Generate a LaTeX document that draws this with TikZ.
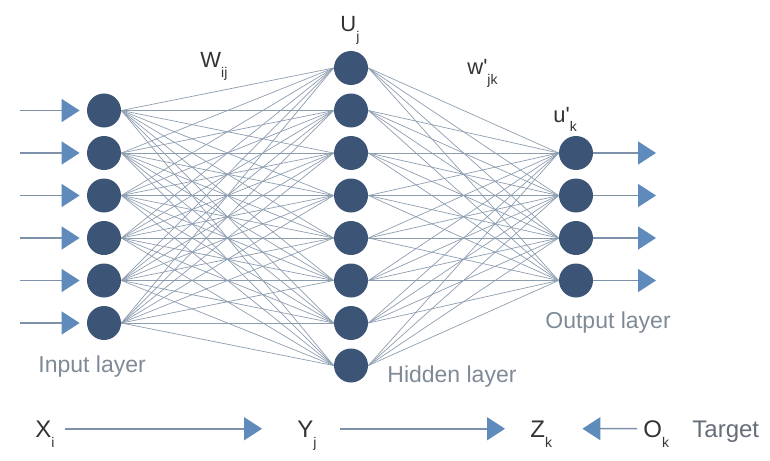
\documentclass[tikz,border=0pt]{standalone}
\usepackage{fontspec}
\setmainfont{Liberation Sans}
\usepackage{tikz}
\usetikzlibrary{arrows.meta,backgrounds}
\definecolor{neuronBlue}{HTML}{3C5476}
\definecolor{weightGrey}{HTML}{8D9DB0}
\definecolor{arrowGrey}{HTML}{7D92AA}
\definecolor{tipBlue}{HTML}{5E8BBB}
\definecolor{labelGrey}{HTML}{333333}
\definecolor{layerGrey}{HTML}{7E8A96}
\newcommand{\subLabel}[2]{\ensuremath{\mbox{#1}\raisebox{-0.8ex}{\mbox{\scriptsize #2}}}}
\newcommand\layerSpacing{42.5}
\tikzset{
		neuron/.style =    {circle, fill=neuronBlue, minimum size=17pt, inner sep=0pt},
		weight/.style =    {draw=weightGrey, line width=0.35pt},
		signal/.style =    {draw=arrowGrey, line width=0.8pt, -{Triangle[length=9pt,width=11.5pt,color=tipBlue]}},
		symbol/.style =    {text=labelGrey, inner sep=0pt, text depth=0pt, anchor=base west, font=\fontsize{11}{13}\selectfont},
		bigSymbol/.style = {symbol, font=\fontsize{12}{14}\selectfont},
		layerName/.style = {text=layerGrey, inner sep=0pt, anchor=base west, font=\fontsize{11.5}{14}\selectfont}
}

\begin{document}
\begin{tikzpicture}[x=0.5pt, y=-0.5pt]
  \useasboundingbox (0,0) rectangle (770,460);

  % Draw neurons of the three layers
  \foreach \i in {1,...,6}
    \node [neuron] (i\i) at ({104}, {68 + \layerSpacing*\i}) {};
  \foreach \j in {1,...,8}
    \node [neuron] (h\j) at ({351}, {68 + \layerSpacing*(\j-1)}) {};
  \foreach \k in {1,...,4}
    \node [neuron] (o\k) at ({576}, {153 + \layerSpacing*(\k-1)}) {};

  % Draw weights between layers
  \begin{pgfonlayer}{background}
    \foreach \i in {1,...,6}
      \foreach \j in {1,...,8}
        \draw [weight] (i\i.east) -- (h\j.west);
    \foreach \j in {1,...,8}
      \foreach \k in {1,...,4}
        \draw [weight] (h\j.east) -- (o\k.west);
  \end{pgfonlayer}

  % Input and output signals
  \foreach \i in {1,...,6}
  {
    \coordinate (in\i) at ({20}, {68 + \layerSpacing*\i});
    \draw [signal, shorten >=3.5pt] (in\i) -- (i\i);
  }
  \foreach \k in {1,...,4}
  {
    \coordinate (out\k) at ({656}, {153 + \layerSpacing*(\k-1)});
    \draw [signal] (o\k) -- (out\k);
  }

  % Weight and unit labels
  \node [symbol] (wij) at (200,68) {\subLabel{W}{ij}};
  \node [symbol] (uj)  at (340,32) {\subLabel{U}{j}};
  \node [symbol] (wjk) at (467,75) {\subLabel{w\textquotesingle}{jk}};
  \node [symbol] (uk)  at (553,122) {\subLabel{u\textquotesingle}{k}};

  % Layer names
  \node [layerName] (inputName)  at (38,372)  {Input layer};
  \node [layerName] (hiddenName) at (387,382) {Hidden layer};
  \node [layerName] (outputName) at (545,328) {Output layer};

  % Bottom row
  \node [bigSymbol] (xi) at (35,437)  {\subLabel{X}{i}};
  \node [bigSymbol] (yj) at (297,437) {\subLabel{Y}{j}};
  \node [bigSymbol] (zk) at (530,437) {\subLabel{Z}{k}};
  \node [bigSymbol] (ok) at (643,437) {\subLabel{O}{k}};
  \node [bigSymbol, text=layerGrey!80!black] (target) at (692,437) {Target};
  \draw [signal, shorten <=5pt, shorten >=17.5pt] (xi) -- (yj);
  \draw [signal, shorten <=11.5pt, shorten >=12.5pt] (yj) -- (zk);
  \draw [signal, shorten <=3pt, shorten >=15pt] (ok) -- (zk);

\end{tikzpicture}
\end{document}
